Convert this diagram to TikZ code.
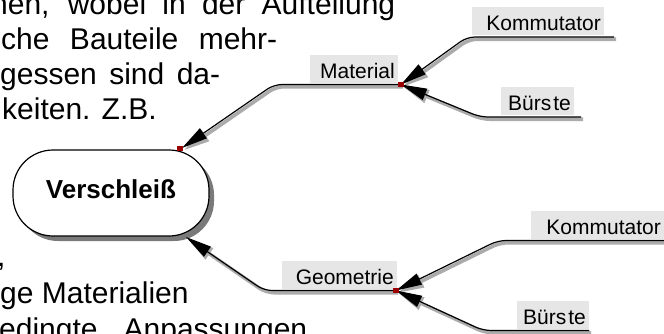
\documentclass[tikz,border=0pt]{standalone}
\usepackage{fontspec}
\setmainfont{Liberation Sans}
\usetikzlibrary{arrows.meta,shadows}

\definecolor{lblfill}{HTML}{E6E6E6}
\definecolor{lineshadow}{HTML}{ABABAB}
\definecolor{ovalshadow}{HTML}{7A7A7A}
\definecolor{hubred}{HTML}{990000}

\begin{document}
\begin{tikzpicture}[x=1pt,y=-1pt,
  bodytext/.style={anchor=base west, inner sep=0pt, font=\fontsize{30}{35}\selectfont},
  lbl/.style={anchor=south east, fill=lblfill, inner xsep=3pt, inner ysep=0pt,
    text height=24pt, text depth=4pt, align=right, font=\fontsize{21}{21}\selectfont},
  link/.style={draw=black, line width=1.2pt, rounded corners=8pt,
    -{Triangle[length=26pt,width=12pt]}},
  linkshadow/.style={draw=lineshadow, line width=3.6pt, rounded corners=8pt,
    -{Triangle[length=26pt,width=13pt]},
    transform canvas={xshift=2pt,yshift=-2.2pt}},
  hub/.style={fill=hubred, minimum width=6pt, minimum height=5pt, inner sep=0pt},
  oval/.style={draw=black, fill=white, line width=1.2pt, rounded corners=40pt,
    minimum width=196pt, minimum height=86pt, inner sep=0pt,
    text depth=7pt, font=\bfseries\fontsize{26}{26}\selectfont,
    drop shadow={shadow xshift=5pt, shadow yshift=-5pt, fill=ovalshadow, opacity=1}},
]
\useasboundingbox (0,0) rectangle (664,333);
\clip (0,0) rectangle (664,333);
\fill[white] (0,0) rectangle (664,333);

% running text around the figure
\node[bodytext] (t1) at (-9,14) {\makebox[404pt][s]{nen, wobei in der Aufteilung}};
\node[bodytext] (t2) at (1,49) {\makebox[276pt][s]{che Bauteile mehr-}};
\node[bodytext] (t3) at (0,84) {\makebox[220pt][s]{gessen sind da-}};
\node[bodytext] (t4) at (2,119) {keiten. Z.B.};
\node[bodytext] (t5) at (-3,266) {,};
\node[bodytext] (t6) at (0,303) {ge Materialien};
\node[bodytext] (t7) at (-1,339) {\makebox[308pt][s]{edingte Anpassungen}};

% anchor points of the tree
\coordinate (matHub) at (401,84.5);
\coordinate (geoHub) at (396,290.5);
\coordinate (ovalTop) at (182,148);
\coordinate (ovalBot) at (186,237);
\coordinate (kmAEnd) at (614,37);
\coordinate (kmABend) at (467,37);
\coordinate (bsAEnd) at (581,117);
\coordinate (bsABend) at (480,117);
\coordinate (matBend) at (274,84.5);
\coordinate (geoBend) at (264,290.5);
\coordinate (kmBEnd) at (666,240.5);
\coordinate (kmBBend) at (498,240.5);
\coordinate (bsBEnd) at (589,330.5);
\coordinate (bsBBend) at (483,330.5);

% central oval
\node[oval] (wear) at (111,193) {Verschleiß};

% connector shadows
\draw[linkshadow] (kmAEnd) -- (kmABend) -- (matHub);
\draw[linkshadow] (bsAEnd) -- (bsABend) -- (matHub);
\draw[linkshadow] (matHub) -- (matBend) -- (ovalTop);
\draw[linkshadow] (geoHub) -- (geoBend) -- (ovalBot);
\draw[linkshadow] (kmBEnd) -- (kmBBend) -- (geoHub);
\draw[linkshadow] (bsBEnd) -- (bsBBend) -- (geoHub);

% labels
\node[lbl, text width=82pt] (mat) at (398,83) {Material};
\node[lbl, text width=126pt] (kmA) at (604,35) {Kommutator};
\node[lbl, text width=67pt] (bsA) at (574,115) {Bürs\hspace{2pt}te};
\node[lbl, text width=109pt] (geo) at (397,289) {Geometrie};
\node[lbl, text width=127pt] (kmB) at (664,239) {Kommutator};
\node[lbl, text width=66pt] (bsB) at (589,329) {Bürs\hspace{2pt}te};

% connectors
\draw[link] (kmAEnd) -- (kmABend) -- (matHub);
\draw[link] (bsAEnd) -- (bsABend) -- (matHub);
\draw[link] (matHub) -- (matBend) -- (ovalTop);
\draw[link] (geoHub) -- (geoBend) -- (ovalBot);
\draw[link] (kmBEnd) -- (kmBBend) -- (geoHub);
\draw[link] (bsBEnd) -- (bsBBend) -- (geoHub);

% connection handles
\node[hub] (hMat) at (matHub) {};
\node[hub] (hGeo) at (geoHub) {};
\node[hub] (hTop) at (180,148) {};
\end{tikzpicture}
\end{document}
